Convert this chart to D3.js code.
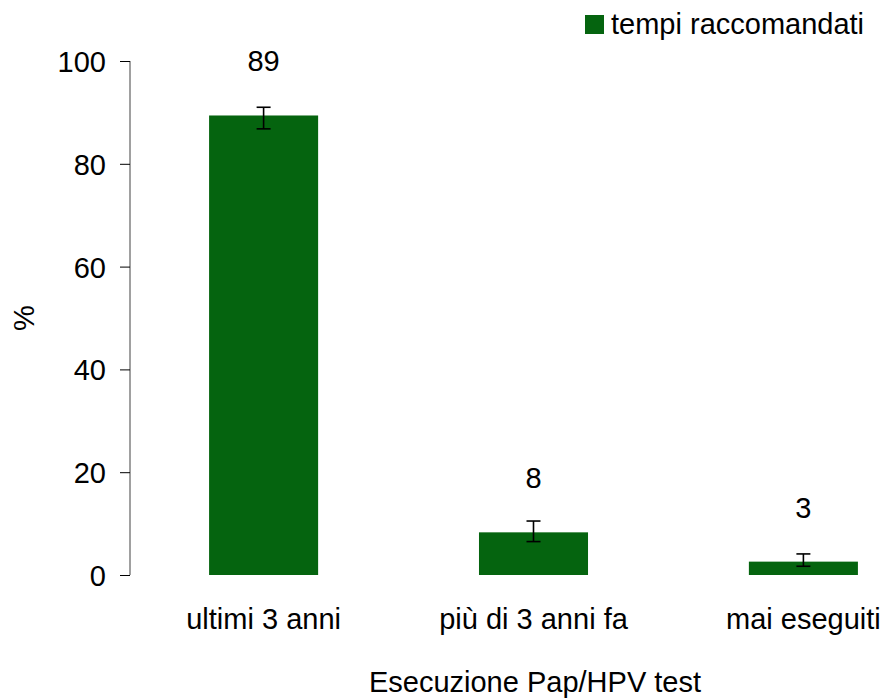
<!DOCTYPE html>
<html lang="it">
<head>
<meta charset="UTF-8">
<title>Esecuzione Pap/HPV test</title>
<script src="https://cdnjs.cloudflare.com/ajax/libs/d3/7.8.5/d3.min.js"></script>
<style>
    body {
        margin: 0;
        background: #fff;
        font-family: Arial, "Liberation Sans", sans-serif;
    }
    text {
        fill: #000;
    }
</style>
</head>
<body>
<div id="chart"></div>
<script>
    // Data
    const categories = ["ultimi 3 anni", "più di 3 anni fa", "mai eseguiti"];
    const values = [89.4, 8.3, 2.6];
    const valueLabels = ["89", "8", "3"];
    const errLow = [86.8, 6.5, 1.7];
    const errHigh = [91.0, 10.5, 4.1];
    const yTicks = [0, 20, 40, 60, 80, 100];
    const seriesName = "tempi raccomandati";

    const width = 886, height = 699;
    const green = "#05640f";
    const fontSize = 29;

    const svg = d3.select("#chart")
        .append("svg")
        .attr("width", width)
        .attr("height", height);

    const x = d3.scaleBand()
        .domain(categories)
        .range([130, 937])
        .paddingInner(0.596)
        .paddingOuter(0.293);

    const y = d3.scaleLinear()
        .domain([0, 100])
        .range([575, 61]);

    // y axis
    const yAxis = svg.append("g")
        .attr("transform", "translate(130,0)")
        .call(d3.axisLeft(y).tickValues(yTicks).tickSize(10).tickPadding(14));
    yAxis.select(".domain").attr("stroke", "#808080").attr("stroke-width", 1.5)
        .attr("d", `M0,${y(100)}V${y(0)}`);
    yAxis.selectAll(".tick line").attr("stroke", "#000").attr("stroke-width", 1);
    yAxis.selectAll(".tick text")
        .attr("font-size", fontSize)
        .attr("font-family", "Arial, 'Liberation Sans', sans-serif")
        .attr("dy", "0.36em");

    // bars
    svg.append("g")
        .selectAll("rect")
        .data(categories)
        .join("rect")
        .attr("x", d => x(d))
        .attr("width", x.bandwidth())
        .attr("y", (d, i) => y(values[i]))
        .attr("height", (d, i) => y(0) - y(values[i]))
        .attr("fill", green);

    // error bars
    const err = svg.append("g")
        .attr("stroke", "#000")
        .attr("stroke-width", 1.6);
    categories.forEach((c, i) => {
        const cx = x(c) + x.bandwidth() / 2;
        err.append("line").attr("x1", cx).attr("x2", cx)
            .attr("y1", y(errLow[i])).attr("y2", y(errHigh[i]));
        [errLow[i], errHigh[i]].forEach(v => {
            err.append("line").attr("x1", cx - 7).attr("x2", cx + 7)
                .attr("y1", y(v)).attr("y2", y(v));
        });
    });

    // value labels
    svg.append("g")
        .selectAll("text")
        .data(categories)
        .join("text")
        .attr("x", d => x(d) + x.bandwidth() / 2)
        .attr("y", (d, i) => y(values[i]) - 44)
        .attr("text-anchor", "middle")
        .attr("font-size", fontSize)
        .text((d, i) => valueLabels[i]);

    // category labels
    svg.append("g")
        .selectAll("text")
        .data(categories)
        .join("text")
        .attr("x", d => x(d) + x.bandwidth() / 2)
        .attr("y", 629)
        .attr("text-anchor", "middle")
        .attr("font-size", fontSize)
        .text(d => d);

    // axis titles
    svg.append("text")
        .attr("x", 535)
        .attr("y", 692)
        .attr("text-anchor", "middle")
        .attr("font-size", fontSize)
        .text("Esecuzione Pap/HPV test");

    svg.append("text")
        .attr("transform", "translate(34,318) rotate(-90)")
        .attr("text-anchor", "middle")
        .attr("font-size", fontSize)
        .text("%");

    // legend
    const legend = svg.append("g");
    legend.append("rect")
        .attr("x", 585).attr("y", 15)
        .attr("width", 19).attr("height", 19)
        .attr("fill", green);
    legend.append("text")
        .attr("x", 611).attr("y", 34)
        .attr("font-size", fontSize)
        .text(seriesName);
</script>
</body>
</html>
